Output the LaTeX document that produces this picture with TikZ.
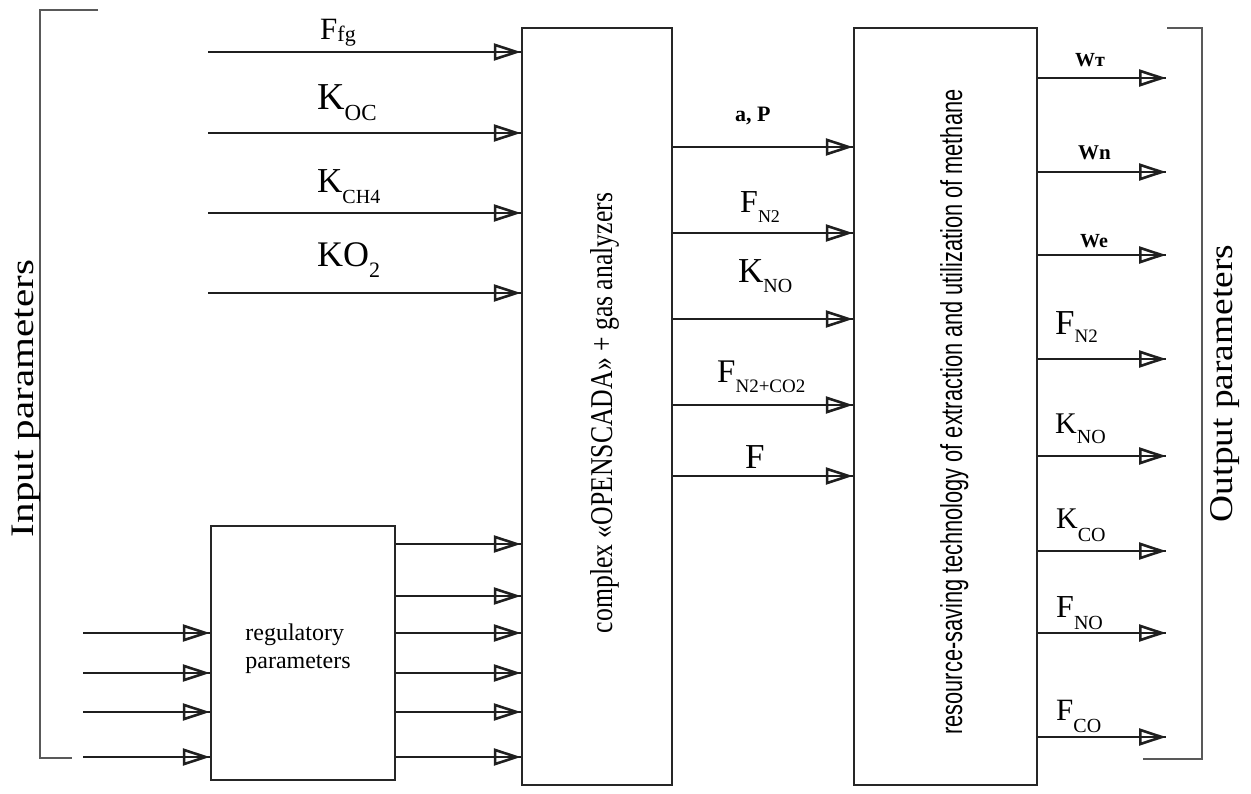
\documentclass[tikz,border=0pt]{standalone}
\usepackage{fontspec}
\setmainfont{Liberation Serif}
\newfontfamily\arialf{Liberation Sans}
\usetikzlibrary{arrows.meta}
\newcommand\fs[1]{\fontsize{#1pt}{#1pt}\selectfont}
\newcommand\lb[5]{{\fs{#1}#2}\raisebox{-#5pt}{\fs{#4}#3}}
\newcommand\vtext[3]{\resizebox{#1pt}{#2pt}{#3}}
\begin{document}
\begin{tikzpicture}[x=1pt,y=-1pt,
  box/.style={draw=black!85, line width=2.4pt, inner sep=0pt, rectangle},
  arr/.style={draw=black!88, line width=2.6pt,
    -{Triangle[open,length=27pt,width=17pt]}, postaction={draw=black!88, line width=2.6pt, -}},
  brk/.style={draw=black!65, line width=2.6pt},
  lab/.style={inner sep=0pt, anchor=base west},
  vlab/.style={inner sep=0pt, rotate=90, anchor=base}]
\useasboundingbox (0,0) rectangle (1251,794);
\fill[white] (0,0) rectangle (1251,794);

% boxes
\node[box, minimum width=150pt, minimum height=757pt] (scada) at (597,406.5) {};
\node[box, minimum width=183pt, minimum height=757pt] (rbox) at (945.5,406.5) {};
\node[box, minimum width=184pt, minimum height=254pt] (reg) at (303,653) {};

% brackets
\draw[brk] (98,10) -- (40,10) -- (40,758) -- (72,758);
\draw[brk] (1167,28) -- (1202,28) -- (1202,759) -- (1143,759);

% rotated texts
\node[vlab] (tin) at (33,398.5) {\vtext{277}{21.5}{Input parameters}};
\node[vlab] (tout) at (1232,383.5) {\vtext{277}{22}{Output parameters}};
\node[vlab] (tscada) at (612,413) {\vtext{440}{22}{complex «OPENSCADA» + gas analyzers}};
\node[vlab] (tres) at (962,412) {\vtext{645}{22}{\arialf resource-saving technology of extraction and utilization of methane}};
\node[inner sep=0pt, align=left, font=\fontsize{24pt}{28pt}\selectfont] (treg) at (298,649) {regulatory\\parameters};

% top inputs
\foreach \y [count=\i] in {52,133,213,293} {
  \coordinate (in\i) at (208,\y);
  \draw[arr] (in\i) -- (in\i -| scada.west);
}
% regulatory inputs
\foreach \y [count=\i] in {633,673,712,757} {
  \coordinate (ri\i) at (83,\y);
  \draw[arr] (ri\i) -- (ri\i -| reg.west);
}
% regulatory outputs
\foreach \y [count=\i] in {544,596,633,673,712,757} {
  \coordinate (ro\i) at (0,\y);
  \draw[arr] (reg.east |- ro\i) -- (scada.west |- ro\i);
}
% middle
\foreach \y [count=\i] in {147,233,319,405,476} {
  \coordinate (m\i) at (0,\y);
  \draw[arr] (scada.east |- m\i) -- (rbox.west |- m\i);
}
% outputs
\foreach \y [count=\i] in {78,172,255,359,456,551,633,737} {
  \coordinate (o\i) at (1166,\y);
  \draw[arr] (rbox.east |- o\i) -- (o\i);
}

% labels
\node[lab] (lffg) at (320,40) {\lb{31}{F}{fg}{22}{2}};
\node[lab] (loc) at (317,110) {\lb{38}{K}{OC}{23}{11}};
\node[lab] (lch4) at (317,193) {\lb{35}{K}{CH4}{20}{11}};
\node[lab] (lo2) at (317,267) {\lb{36}{KO}{2}{22}{11}};
\node[lab] (lap) at (735,122) {\fs{22}\bfseries a, P};
\node[lab] (lfn2) at (740,213) {\lb{32}{F}{N2}{18}{10}};
\node[lab] (lkno) at (738,283) {\lb{35}{K}{NO}{20}{10}};
\node[lab] (lfnco) at (717,382) {\lb{33}{F}{N2+CO2}{19}{10}};
\node[lab] (lf) at (745,468) {\fs{35}F};
\node[lab] (lwt) at (1075,67) {\fs{20}\bfseries Wт};
\node[lab] (lwn) at (1078,160) {\fs{21}\bfseries Wn};
\node[lab] (lwe) at (1080,248) {\fs{20}\bfseries We};
\node[lab] (rfn2) at (1055,335) {\lb{35}{F}{N2}{19}{8}};
\node[lab] (rkno) at (1055,433) {\lb{30}{K}{NO}{20}{10}};
\node[lab] (rkco) at (1056,528) {\lb{30}{K}{CO}{20}{13}};
\node[lab] (rfno) at (1056,617) {\lb{32}{F}{NO}{20}{12}};
\node[lab] (rfco) at (1056,720) {\lb{31}{F}{CO}{20}{12}};
\end{tikzpicture}
\end{document}
